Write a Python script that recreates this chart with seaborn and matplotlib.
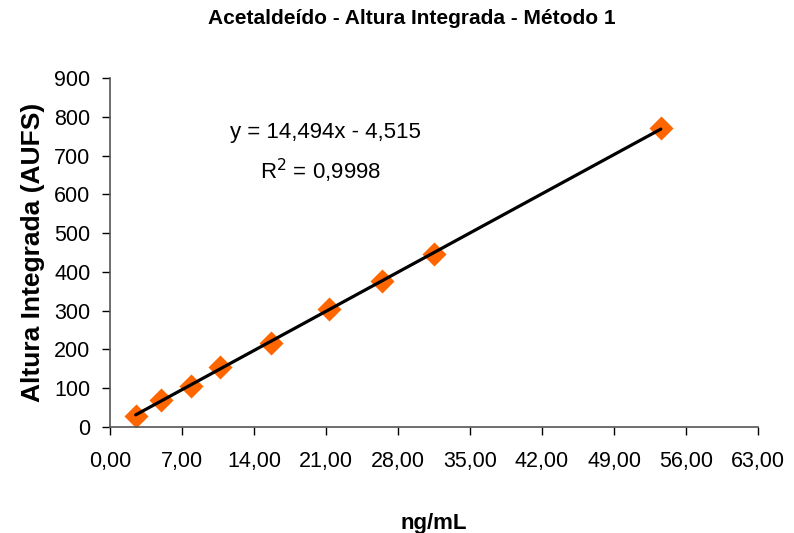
import matplotlib
matplotlib.use('Agg')
import numpy as np
import pandas as pd
import seaborn as sns
import matplotlib.pyplot as plt
from matplotlib.ticker import FuncFormatter, MultipleLocator

# calibration points
conc = [2.50, 4.94, 7.89, 10.68, 15.65, 21.26, 26.46, 31.48, 53.55]
altura = [29.5, 69, 107, 155, 217, 305, 376.6, 445.5, 770]

df = pd.DataFrame({'ng/mL': conc, 'Altura': altura})

sns.set_style('white')
plt.rcParams['font.family'] = ['Liberation Sans', 'DejaVu Sans']
plt.rcParams['text.color'] = 'black'
plt.rcParams['axes.labelcolor'] = 'black'

fig = plt.figure(figsize=(7.94, 5.33), dpi=100)
ax = fig.add_axes([110 / 794, 1 - 427 / 533, 648 / 794, 349 / 533])

sns.regplot(x='ng/mL', y='Altura', data=df, ax=ax, ci=None, marker='D',
            scatter_kws={'color': '#ff6600', 's': 150, 'alpha': 1, 'zorder': 2,
                         'linewidths': 0},
            line_kws={'color': 'black', 'lw': 2.3, 'zorder': 3})

ax.set_xlim(0, 63)
ax.set_ylim(0, 900)
ax.xaxis.set_major_locator(MultipleLocator(7))
ax.yaxis.set_major_locator(MultipleLocator(100))
ax.xaxis.set_major_formatter(FuncFormatter(lambda v, p: f'{v:.2f}'.replace('.', ',')))
ax.tick_params(axis='both', direction='out', length=6, width=1, labelsize=15.5,
               bottom=True, left=True, colors='black', pad=8)
ax.tick_params(axis='x', pad=11)
for s in ['top', 'right']:
    ax.spines[s].set_visible(False)
for s in ['left', 'bottom']:
    ax.spines[s].set_color('#555555')
    ax.spines[s].set_linewidth(1.2)

fig.text(412 / 794, 1 - 19 / 533,
         'Acetaldeído - Altura Integrada - Método 1',
         ha='center', va='center', fontsize=15, fontweight='bold')
ax.set_xlabel('ng/mL', fontsize=16, fontweight='bold', labelpad=30)
ax.set_ylabel('Altura Integrada (AUFS)', fontsize=19, fontweight='bold',
              labelpad=7)

ax.text(20.9, 760, 'y = 14,494x - 4,515', fontsize=16, ha='center', va='center')
ax.text(20.5, 660, 'R$^2$ = 0,9998', fontsize=16, ha='center', va='center')

plt.savefig('out.png', dpi=100)
